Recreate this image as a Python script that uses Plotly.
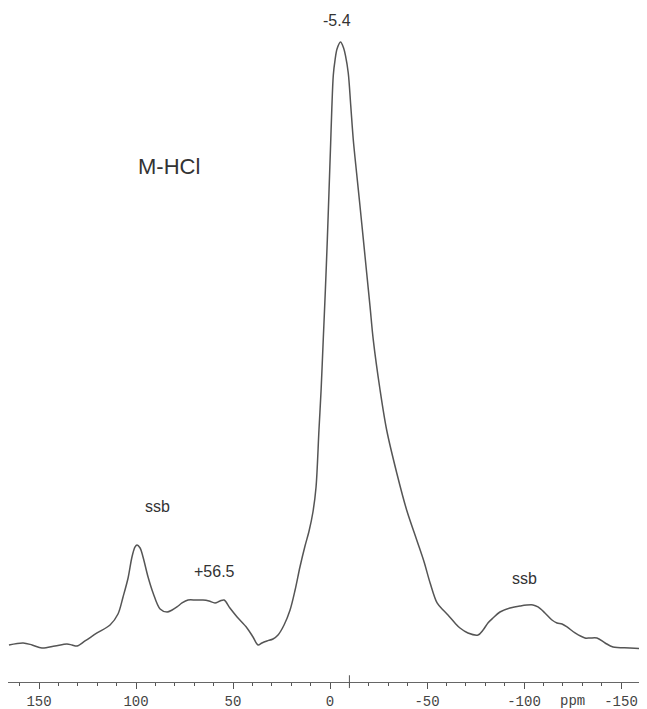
import plotly.graph_objects as go

# Spectrum: chemical shift (ppm) and relative intensity (%)
shift_ppm = [165.5, 158.2, 153.6, 148.5, 141.8, 135.6, 133.0, 130.4, 126.3, 120.1,
             113.4, 109.3, 106.7, 104.1, 102.1, 100.5, 99.5, 97.9, 96.4, 93.8,
             91.2, 87.6, 84.0, 81.4, 78.9, 76.3, 73.2, 69.1, 65.5, 62.4,
             59.3, 56.7, 54.6, 51.6, 47.9, 42.8, 39.7, 37.1, 35.1, 32.5,
             29.4, 26.8, 23.7, 20.6, 18.0, 15.5, 12.9, 10.8, 8.8, 7.2,
             5.7, 4.6, 3.5, 2.4, 1.4, 0.5, -0.3, -0.9, -1.7, -2.6,
             -3.6, -5.4, -7.0, -8.0, -9.4, -10.7, -12.0, -13.7, -15.5, -17.2,
             -18.9, -20.6, -22.3, -25.8, -29.2, -34.4, -39.5, -44.7, -48.5, -51.6,
             -55.2, -58.3, -60.8, -64.4, -67.0, -71.1, -76.3, -78.9, -81.4, -84.0,
             -87.6, -92.8, -97.9, -104.6, -107.2, -110.8, -114.4, -117.0, -119.6, -122.2,
             -126.3, -131.4, -134.0, -137.6, -141.8, -145.9, -154.6, -163.4]
intensity = [0.50, 0.83, 0.50, 0.00, 0.33, 0.66, 0.50, 0.33, 1.16, 2.48,
             3.80, 5.61, 8.42, 11.55, 15.02, 16.67, 17.00, 16.50, 15.02, 11.72,
             9.08, 6.44, 5.94, 6.27, 6.77, 7.43, 7.92, 7.92, 7.92, 7.76,
             7.43, 7.76, 7.92, 6.60, 5.12, 3.30, 1.82, 0.50, 0.83, 1.16,
             1.49, 2.15, 3.80, 6.27, 9.57, 13.37, 16.83, 19.31, 22.44, 26.57,
             35.97, 42.57, 50.83, 59.08, 67.33, 75.58, 83.00, 88.78, 94.55, 97.03,
             98.84, 100.0, 99.01, 97.69, 94.88, 89.44, 83.83, 78.38, 72.77, 67.33,
             61.88, 56.44, 50.83, 42.57, 35.97, 28.88, 22.77, 17.82, 14.19, 10.73,
             7.43, 6.27, 5.45, 4.13, 3.30, 2.48, 2.15, 2.97, 4.13, 4.95,
             5.94, 6.60, 6.93, 7.10, 6.77, 5.78, 4.62, 4.13, 3.96, 3.47,
             2.48, 1.65, 1.65, 1.65, 0.83, 0.17, 0.00, -0.17]

# Axis ticks
tick_vals = [150, 100, 50, 0, -50, -100, -150]
tick_text = ["150", "100", "50", "0", "-50", "-100", "-150"]
unit_label = "ppm"
unit_pos = -125
marker_ppm = -10

# Peak labels: (text, shift, intensity)
label_text = ["-5.4", "ssb", "+56.5", "ssb"]
label_x = [-3.6, 88.7, 59.3, -100.0]
label_y = [103.6, 23.3, 12.7, 11.4]
sample_name = "M-HCl"

fig = go.Figure()
fig.add_trace(go.Scatter(
    x=shift_ppm, y=intensity, mode="lines",
    line=dict(color="#555555", width=1.5, shape="spline", smoothing=0.9),
    hoverinfo="skip", showlegend=False,
))

for t, xv, yv in zip(label_text, label_x, label_y):
    fig.add_annotation(x=xv, y=yv, text=t, showarrow=False,
                       font=dict(family="Liberation Sans, Arial", size=16, color="#333333"))

fig.add_annotation(x=83.0, y=79.4, text=sample_name, showarrow=False,
                   font=dict(family="Liberation Sans, Arial", size=22, color="#333333"))

fig.add_annotation(x=unit_pos, y=0, yref="paper", yanchor="middle", yshift=-19,
                   text=unit_label, showarrow=False,
                   font=dict(family="Liberation Mono, DejaVu Sans Mono", size=14, color="#444444"))

fig.add_shape(type="line", xref="x", yref="paper", x0=marker_ppm, x1=marker_ppm,
              y0=0.010, y1=-0.009, line=dict(color="#555555", width=1))

fig.update_layout(
    width=639, height=701,
    margin=dict(l=0, r=0, t=0, b=27),
    paper_bgcolor="white", plot_bgcolor="white",
    xaxis=dict(
        range=[166.0, -163.4],
        tickmode="array", tickvals=tick_vals, ticktext=tick_text,
        ticks="outside", ticklen=6, tickwidth=1, tickcolor="#555555",
        minor=dict(tickmode="linear", tick0=0, dtick=10, ticks="outside",
                   ticklen=3, tickwidth=1, tickcolor="#555555", showgrid=False),
        showline=True, linecolor="#666666", linewidth=1,
        showgrid=False, zeroline=False,
        tickfont=dict(family="Liberation Mono, DejaVu Sans Mono", size=14, color="#444444"),
    ),
    yaxis=dict(range=[-5.61, 105.6], visible=False, showgrid=False, zeroline=False),
)

fig.write_html("out.html")
